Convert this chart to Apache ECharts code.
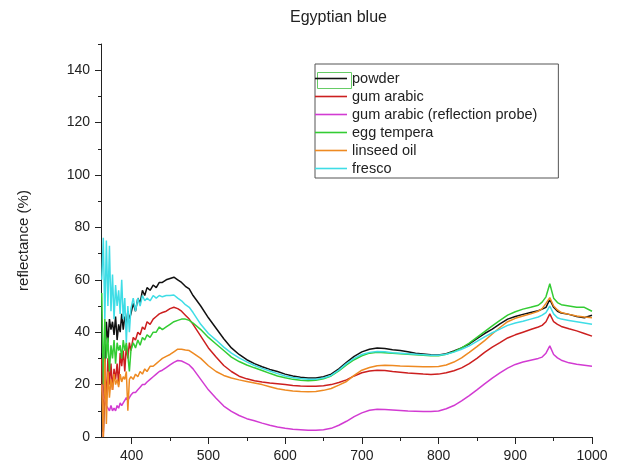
<!DOCTYPE html>
<html>
<head>
<meta charset="utf-8">
<script src="https://cdn.jsdelivr.net/npm/echarts@6.0.0/dist/echarts.min.js"></script>
<style>
  html, body { margin: 0; padding: 0; background: #fff; }
  #chart { width: 619px; height: 463px; }
</style>
</head>
<body>
<div id="chart"></div>
<script>
// wavelength (nm), dense at the noisy start
const wavelength = [
  361, 363, 365, 367, 369, 371, 373, 375, 377, 379, 381, 383, 385, 387, 389, 391,
  393, 395, 397, 399, 402, 405, 408, 411, 414, 417, 420, 424, 428, 432, 436,
  440, 445, 450, 455, 460, 465, 470, 475, 480,
  490, 500, 510, 520, 530, 540, 550, 560, 570, 580, 590, 600, 610, 620, 630, 640,
  650, 660, 670, 680, 690, 700, 710, 720, 730, 740, 750, 760, 770, 780, 790, 800,
  810, 820, 830, 840, 850, 860, 870, 880, 890, 900, 910, 920, 930,
  935, 940, 945, 950, 955, 960, 970, 980, 990, 1000
];

const powder = [
  32, 2, 28, 44, 36, 45, 41, 44, 39, 46, 37, 43, 40, 47, 41, 46,
  43, 48, 45, 47, 51, 48, 53, 51, 56, 54, 57, 56, 58, 57, 59,
  59, 60, 60.5, 61, 60, 59, 57.5, 56.5, 54,
  50, 45.5, 41.5, 37.5, 34, 31.5, 29.5, 28, 26.8, 25.8, 25, 24, 23.3, 22.8, 22.5, 22.5,
  23, 24, 26, 28.5, 30.8, 32.5, 33.5, 34, 33.8, 33.3, 33, 32.5, 32, 31.7, 31.4, 31.3,
  31.8, 32.8, 34, 35.5, 37.5, 39.5, 41.2, 43.2, 45, 46, 46.8, 47.5, 48.2,
  48.8, 49.5, 52.5, 49.5, 48, 47.3, 46.8, 46, 45.5, 46.5
];

const gumArabic = [
  30, 0, 25, 15, 30, 20, 28, 18, 26, 22, 28, 20, 32, 27, 33, 25,
  35, 30, 36, 33, 38, 37, 40, 39, 42, 41, 44, 43, 45, 46, 47,
  47.5, 48, 49, 49.5, 49, 48, 46.5, 45, 43,
  38.5, 34, 30.5, 27.3, 25, 23.2, 22.2, 21.5, 21, 20.6, 20.3, 20, 19.7, 19.5, 19.4, 19.4,
  19.6, 20, 20.8, 21.8, 23.3, 24.5, 25.2, 25.5, 25.4, 25, 24.7, 24.4, 24.2, 24, 23.9, 24,
  24.5, 25.3, 26.4, 28, 30, 32.3, 34.3, 36, 37.8, 39, 40, 41, 42,
  42.6, 44, 47, 44, 43, 42.2, 41.3, 40.5, 39.5, 38.5
];

const gumArabicProbe = [
  20, 15, 14, 12, 11, 10, 12, 10, 11, 10, 12, 11, 13, 12, 13, 14,
  15, 14, 15, 16, 17, 17, 18, 19, 20, 20, 21, 22, 23, 24, 25,
  25.5, 26.5, 27.5, 28.5, 29.2, 29, 28.3, 27.5, 26,
  22, 18, 14.8, 11.8, 9.8, 8.2, 7, 6.2, 5.3, 4.5, 3.8, 3.3, 3, 2.8, 2.6, 2.6,
  2.8, 3.3, 4.5, 6, 7.8, 9.2, 10.2, 10.6, 10.5, 10.3, 10.1, 9.9, 9.8, 9.7, 9.7, 9.9,
  10.8, 12, 13.8, 15.8, 18, 20.3, 22.5, 24.5, 26.3, 27.7, 28.6, 29.3, 30,
  30.5, 32, 34.8, 31.5, 30.2, 29.3, 28.3, 27.8, 27.4, 27
];

const eggTempera = [
  55, 20, 45, 30, 38, 25, 35, 30, 37, 28, 36, 33, 35, 30, 37, 33,
  36, 31, 25, 33, 36, 34, 37, 35, 38, 37, 39, 38, 40, 40, 42,
  41, 42, 43, 44, 44.5, 45, 45, 44.5, 43.5,
  41, 38, 35.5, 33, 30.5, 28.8, 27.5, 26.4, 25.4, 24.3, 23.3, 22.6, 22, 21.7, 21.5, 21.7,
  22.2, 23.3, 25.2, 27.5, 29.5, 31, 32, 32.3, 32.2, 32, 31.8, 31.6, 31.4, 31.2, 31, 31,
  31.6, 32.6, 34, 35.8, 38, 40.2, 42.4, 44.5, 46.5, 47.8, 48.8, 49.5, 50.3,
  51.5, 53.5, 58.5, 53, 51.3, 50.5, 50, 49.5, 49.5, 48
];

const linseedOil = [
  20, 0, 30, 5, 25, 15, 22, 18, 24, 20, 22, 19, 24, 21, 23, 22,
  25, 10, 22, 23, 22, 24, 23, 25, 24, 26, 25, 27, 27, 28, 29,
  30, 30.8, 31.5, 32.5, 33.5, 33.5, 33.2, 33, 32,
  30, 27.2, 25, 23.5, 22.5, 21.8, 21.2, 20.6, 20, 19.2, 18.4, 17.9, 17.6, 17.4, 17.3, 17.4,
  17.8, 18.5, 19.8, 21.2, 23.5, 25.5, 26.5, 27.2, 27.4, 27.3, 27.1, 27, 26.9, 26.8, 26.8, 26.9,
  27.5, 28.6, 30.2, 32.3, 34.5, 36.8, 39.3, 41.8, 44, 45.3, 46.2, 47, 48,
  49, 51, 53.2, 50, 48.5, 47.5, 46.8, 46.2, 45.8, 45.5
];

const fresco = [
  60, 76, 45, 75, 50, 73, 48, 62, 45, 58, 50, 56, 47, 60, 45, 53,
  36, 50, 40, 49, 53, 48, 53, 50, 54, 52, 53, 52, 54, 53, 54,
  53.5, 54, 54, 54.2, 53, 52, 50.5, 49.5, 47.5,
  43, 39.5, 37, 34.3, 32, 30.2, 28.7, 27.3, 26.2, 25.2, 24.2, 23.3, 22.7, 22.3, 22, 22,
  22.5, 23.5, 25.5, 28, 30, 31.5, 32.3, 32.6, 32.5, 32.2, 32, 31.8, 31.6, 31.4, 31.2, 31.2,
  31.6, 32.4, 33.5, 34.8, 36.5, 38.2, 39.8, 41.2, 42.6, 43.5, 44.2, 45, 45.8,
  46.5, 47.5, 50, 47, 45.5, 45, 44.5, 44, 43.5, 43
];

const seriesNames = ['powder', 'gum arabic', 'gum arabic (reflection probe)', 'egg tempera', 'linseed oil', 'fresco'];
const seriesValues = [powder, gumArabic, gumArabicProbe, eggTempera, linseedOil, fresco];
const seriesColors = ['#111111', '#cc1f1f', '#d23bd2', '#33cc33', '#ee8a22', '#3fdde6'];

const xLabelTicks = [400, 500, 600, 700, 800, 900, 1000];
const xMinorTicks = [450, 550, 650, 750, 850, 950];
const yLabelTicks = [0, 20, 40, 60, 80, 100, 120, 140];

const font = 'Liberation Sans, Arial, sans-serif';
const lineIcon = 'path://M0,0 L32,0 L32,1.6 L0,1.6 Z';
const chart = echarts.init(document.getElementById('chart'), null, { renderer: 'canvas' });

const option = {
  backgroundColor: '#fff',
  animation: false,
  title: {
    text: 'Egyptian blue',
    left: 285,
    top: 5,
    textStyle: { fontFamily: font, fontSize: 16, fontWeight: 'normal', color: '#222' }
  },
  legend: {
    orient: 'vertical',
    left: 315,
    top: 64,
    itemWidth: 32,
    itemHeight: 14,
    itemGap: 3,
    padding: [7, 21, 2, 0],
    borderColor: '#555',
    borderWidth: 1,
    textStyle: { fontFamily: font, fontSize: 14.5, color: '#222' },
    data: seriesNames.map((n) => ({ name: n, icon: lineIcon }))
  },
  graphic: [{
    // selection box drawn round the first legend sample
    type: 'rect',
    left: 315,
    top: 70,
    shape: { width: 34, height: 16 },
    style: { fill: 'none', stroke: '#66cc66', lineWidth: 1 },
    silent: true
  }],
  grid: { left: 101, right: 27, top: 44, bottom: 24, containLabel: false },
  xAxis: [
    {
      type: 'value',
      min: 360,
      max: 1000,
      axisLine: { lineStyle: { color: '#222', width: 1 } },
      axisTick: { customValues: xLabelTicks, length: 7, lineStyle: { color: '#222' } },
      axisLabel: {
        customValues: xLabelTicks,
        margin: 12,
        fontFamily: font,
        fontSize: 14,
        color: '#222',
        formatter: (v) => String(v)
      },
      splitLine: { show: false }
    },
    {
      type: 'value',
      min: 360,
      max: 1000,
      position: 'bottom',
      axisLine: { show: false },
      axisTick: { customValues: xMinorTicks, length: 4, lineStyle: { color: '#222' } },
      axisLabel: { show: false },
      splitLine: { show: false }
    }
  ],
  yAxis: [
    {
      type: 'value',
      min: 0,
      max: 150,
      name: 'reflectance (%)',
      nameLocation: 'middle',
      nameGap: 70,
      nameTextStyle: { fontFamily: font, fontSize: 15, color: '#222' },
      axisLine: { show: true, lineStyle: { color: '#222', width: 1 } },
      axisTick: { show: true, customValues: yLabelTicks, length: 6, lineStyle: { color: '#222' } },
      axisLabel: { customValues: yLabelTicks, margin: 11, fontFamily: font, fontSize: 14, color: '#222' },
      splitLine: { show: false }
    },
    {
      type: 'value',
      min: 0,
      max: 150,
      interval: 10,
      position: 'left',
      axisLine: { show: false },
      axisTick: { show: true, length: 3, lineStyle: { color: '#222' } },
      axisLabel: { show: false },
      splitLine: { show: false }
    }
  ],
  series: seriesNames.map((name, k) => ({
    name: name,
    type: 'line',
    xAxisIndex: 0,
    yAxisIndex: 0,
    symbol: 'none',
    lineStyle: { width: 1.5, color: seriesColors[k] },
    itemStyle: { color: seriesColors[k] },
    data: wavelength.map((w, i) => [w, seriesValues[k][i]])
  }))
};

chart.setOption(option);
</script>
</body>
</html>
